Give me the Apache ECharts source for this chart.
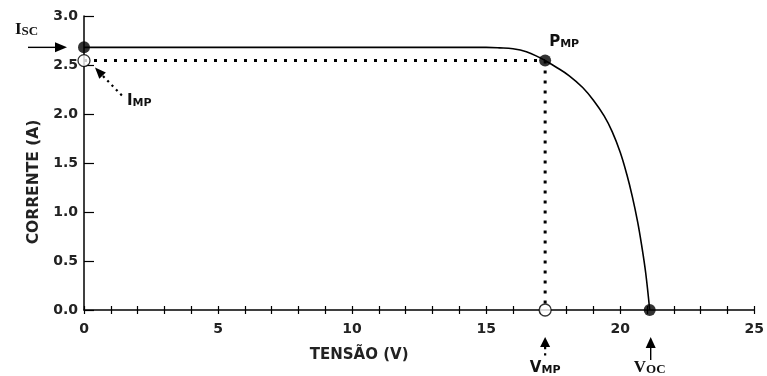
<!DOCTYPE html>
<html>
<head>
<meta charset="utf-8">
<script src="https://cdn.jsdelivr.net/npm/echarts@6/dist/echarts.min.js"></script>
<style>
  html, body { margin: 0; padding: 0; background: #fff; }
  #chart { width: 767px; height: 376px; }
</style>
</head>
<body>
<div id="chart"></div>
<script>
// I-V curve of a photovoltaic module
const voltage = [0, 5, 10, 15, 15.5, 16, 16.5, 17.0, 17.2, 17.6, 18.1, 18.6, 19.0, 19.4, 19.7, 20.0, 20.25, 20.45, 20.65, 20.8, 20.95, 21.1];
const current = [2.68, 2.68, 2.68, 2.68, 2.675, 2.665, 2.635, 2.575, 2.545, 2.48, 2.39, 2.27, 2.14, 1.98, 1.82, 1.61, 1.38, 1.16, 0.90, 0.66, 0.38, 0];

// characteristic points
const isc = 2.68;    // short-circuit current
const vmp = 17.2;    // voltage at maximum power
const imp = 2.545;   // current at maximum power
const voc = 21.1;    // open-circuit voltage

// axis ranges and ticks
const xMin = 0, xMax = 25, xStep = 1, xLabelEvery = 5;
const yMin = 0, yMax = 3, yStep = 0.5;

const curveData = voltage.map((v, i) => [v, current[i]]);
const hLine = [[0, imp], [vmp, imp]];
const vLine = [[vmp, imp], [vmp, 0]];
const filledPts = [[0, isc], [vmp, imp], [voc, 0]];
const hollowPts = [[0, imp], [vmp, 0]];

const INK = '#000';
const labelFont = '"DejaVu Sans", sans-serif';
const serifFont = '"Liberation Serif", "DejaVu Serif", serif';

const chart = echarts.init(document.getElementById('chart'), null, { renderer: 'canvas' });

const dotted = { color: INK, width: 3, type: [3, 7], cap: 'butt' };

chart.setOption({
  animation: false,
  backgroundColor: '#fff',
  grid: { left: 84, right: 8, top: 16, bottom: 66, containLabel: false },
  xAxis: [{
    type: 'value', min: xMin, max: xMax, interval: xStep,
    name: 'TENSÃO (V)', nameLocation: 'middle', nameGap: 38,
    nameTextStyle: { fontFamily: labelFont, fontWeight: 'bold', fontSize: 15, color: '#222', padding: [0, 120, 0, 0] },
    axisLine: { show: true, lineStyle: { color: INK, width: 1.5 } },
    axisTick: { show: true, inside: false, length: 4, lineStyle: { color: INK, width: 1.2 } },
    axisLabel: {
      margin: 12, fontFamily: labelFont, fontWeight: 'bold', fontSize: 14, color: '#222',
      formatter: v => (Math.round(v) % xLabelEvery === 0 ? String(Math.round(v)) : '')
    },
    splitLine: { show: false }
  }, {
    // companion axis drawing the upper half of the ticks
    type: 'value', min: xMin, max: xMax, interval: xStep, position: 'bottom',
    axisLine: { show: false },
    axisTick: { show: true, inside: true, length: 4, lineStyle: { color: INK, width: 1.2 } },
    axisLabel: { show: false },
    splitLine: { show: false }
  }],
  yAxis: {
    type: 'value', min: yMin, max: yMax, interval: yStep,
    name: 'CORRENTE (A)', nameLocation: 'middle', nameGap: 41, nameRotate: 90,
    nameTextStyle: { fontFamily: labelFont, fontWeight: 'bold', fontSize: 15.5, color: '#222', padding: [0, 38, 0, 0] },
    axisLine: { show: true, lineStyle: { color: INK, width: 1.5 } },
    axisTick: { show: true, inside: true, length: 10, lineStyle: { color: INK, width: 1.2 } },
    axisLabel: {
      margin: 6, fontFamily: labelFont, fontWeight: 'bold', fontSize: 14, color: '#222',
      formatter: v => v.toFixed(1)
    },
    splitLine: { show: false }
  },
  series: [
    { type: 'line', data: hLine, symbol: 'none', lineStyle: dotted, z: 2, silent: true },
    { type: 'line', data: vLine, symbol: 'none', lineStyle: dotted, z: 2, silent: true },
    { type: 'line', data: curveData, symbol: 'none', smooth: 0.4,
      lineStyle: { color: INK, width: 1.6 }, z: 3, silent: true },
    { type: 'scatter', data: filledPts, symbol: 'circle', symbolSize: 12, clip: false,
      itemStyle: { color: INK }, z: 5, silent: true },
    { type: 'scatter', data: hollowPts, symbol: 'circle', symbolSize: 12, clip: false,
      itemStyle: { color: '#fff', borderColor: INK, borderWidth: 1.3 }, z: 5, silent: true }
  ]
});

// annotations placed relative to the characteristic points
const px = p => chart.convertToPixel({ xAxisIndex: 0, yAxisIndex: 0 }, p);
const pIsc = px([0, isc]);
const pImp = px([0, imp]);
const pPmp = px([vmp, imp]);
const pVmp = px([vmp, 0]);
const pVoc = px([voc, 0]);

function arrowHead(tip, dir, len, half) {
  const [dx, dy] = dir;
  const n = Math.hypot(dx, dy);
  const ux = dx / n, uy = dy / n;
  const bx = tip[0] - ux * len, by = tip[1] - uy * len;
  return {
    type: 'polygon', silent: true, z: 10,
    shape: { points: [tip, [bx - uy * half, by + ux * half], [bx + uy * half, by - ux * half]] },
    style: { fill: INK }
  };
}

function seg(a, b, dashed) {
  return {
    type: 'line', silent: true, z: 10,
    shape: { x1: a[0], y1: a[1], x2: b[0], y2: b[1] },
    style: dashed ? { stroke: INK, lineWidth: 2.2, lineDash: [2.2, 4] } : { stroke: INK, lineWidth: 1.4 }
  };
}

function richLabel(x, y, big, small, font, align, sizes) {
  return {
    type: 'text', silent: true, z: 10, x: x, y: y,
    style: {
      text: '{a|' + big + '}{b|' + small + '}',
      align: align, verticalAlign: 'bottom',
      rich: {
        a: { fontFamily: font, fontWeight: 'bold', fontSize: sizes[0], fill: '#111', verticalAlign: 'bottom' },
        b: { fontFamily: font, fontWeight: 'bold', fontSize: sizes[1], fill: '#111', verticalAlign: 'bottom' }
      }
    }
  };
}

// arrow tips next to each point
const iscTip = [pIsc[0] - 17, pIsc[1]];
const impTip = [pImp[0] + 11, pImp[1] + 7];
const impDir = [-1, -1.05];
const vmpTip = [pVmp[0], pVmp[1] + 27];
const vocTip = [pVoc[0] + 1, pVoc[1] + 27];

chart.setOption({
  graphic: [
    seg([pIsc[0] - 56, iscTip[1]], [iscTip[0] - 8, iscTip[1]], false),
    arrowHead(iscTip, [1, 0], 12, 5),
    richLabel(pIsc[0] - 69, pIsc[1] - 9, 'I', 'SC', serifFont, 'left', [17, 13]),

    seg([impTip[0] + 8, impTip[1] + 8.5], [impTip[0] + 27, impTip[1] + 28], true),
    arrowHead(impTip, impDir, 11, 4.5),
    richLabel(pImp[0] + 43, pImp[1] + 48, 'I', 'MP', labelFont, 'left', [15, 11]),

    richLabel(pPmp[0] + 4, pPmp[1] - 11, 'P', 'MP', labelFont, 'left', [15, 11]),

    seg([vmpTip[0], vmpTip[1] + 10], [vmpTip[0], vmpTip[1] + 20], true),
    arrowHead(vmpTip, [0, -1], 10, 5),
    richLabel(pVmp[0], pVmp[1] + 66, 'V', 'MP', labelFont, 'center', [15, 11]),

    seg([vocTip[0], vocTip[1] + 9], [vocTip[0], vocTip[1] + 23], false),
    arrowHead(vocTip, [0, -1], 11, 5),
    richLabel(pVoc[0], pVoc[1] + 66, 'V', 'OC', serifFont, 'center', [17, 13])
  ]
});
</script>
</body>
</html>
